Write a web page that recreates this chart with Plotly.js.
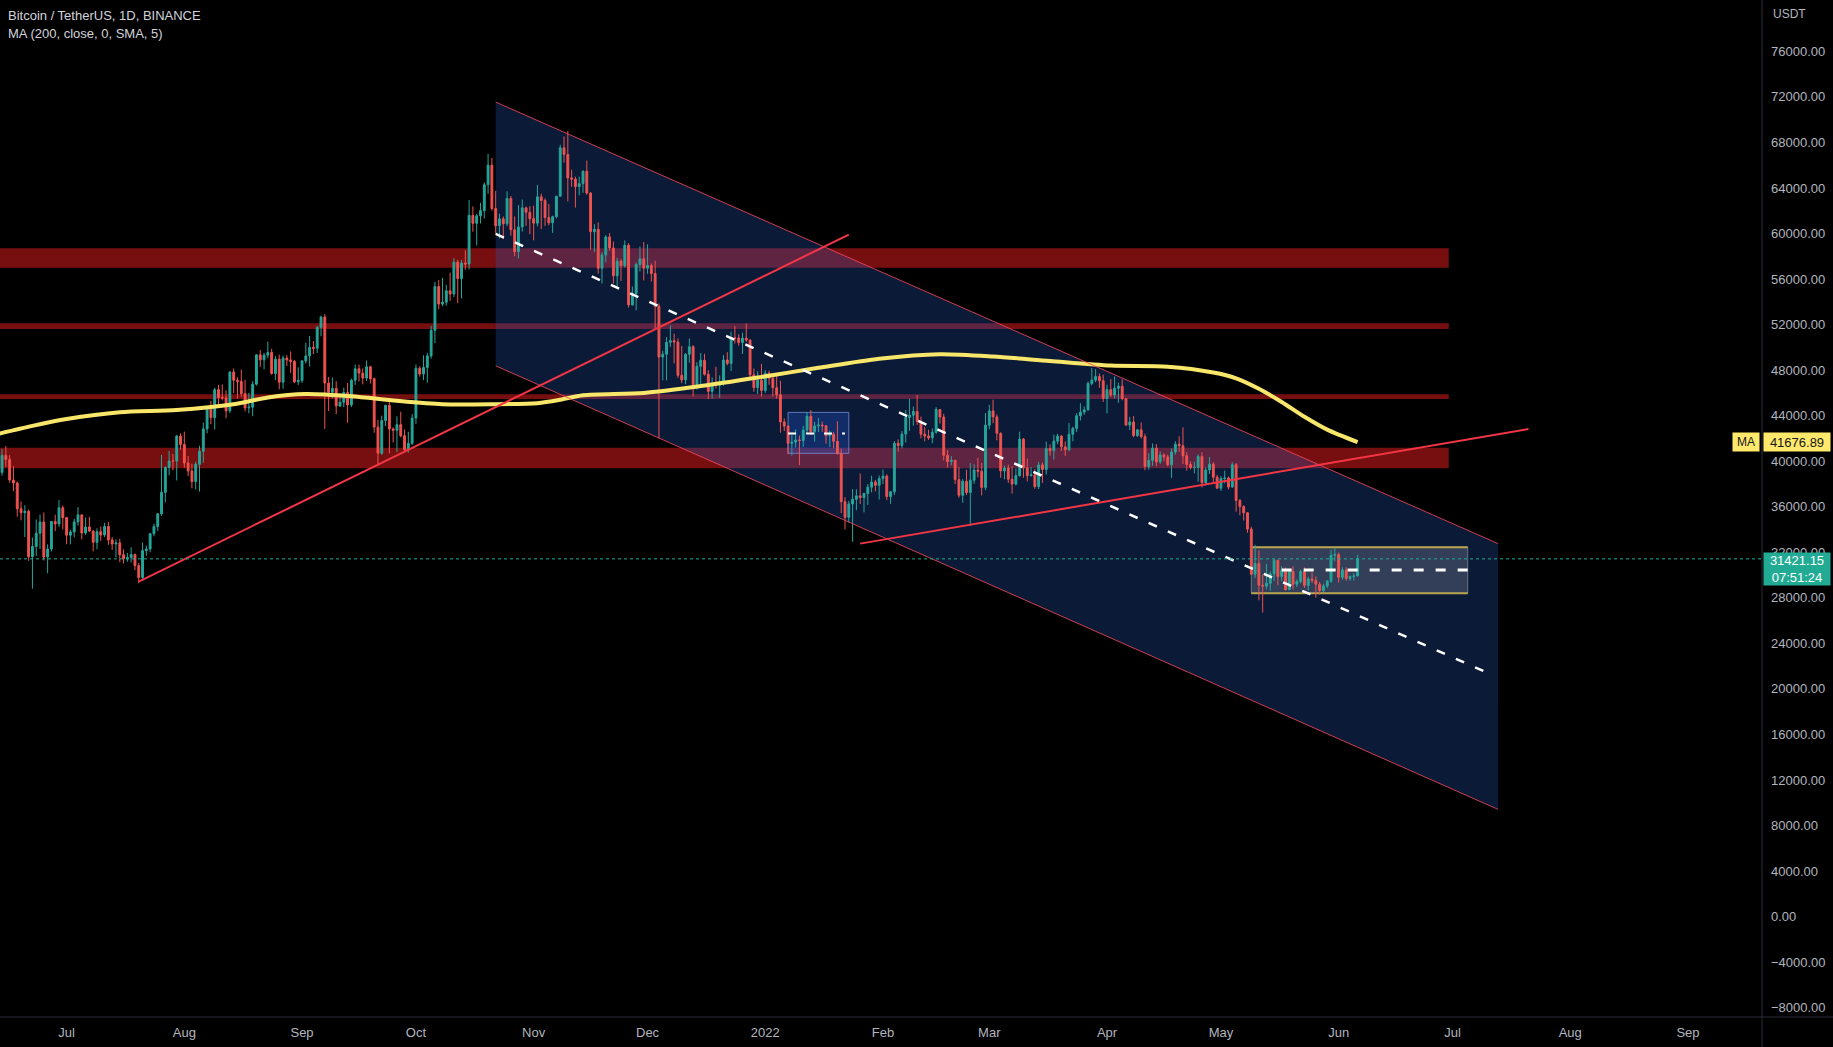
<!DOCTYPE html>
<html><head><meta charset="utf-8">
<script src="https://cdn.plot.ly/plotly-3.0.1.min.js"></script>
<style>html,body{margin:0;padding:0;background:#000;overflow:hidden}#chart{width:1833px;height:1047px}</style>
</head><body><div id="chart"></div>
<script>
// ---------------- DATA (BTC/USDT daily) ----------------
const startDate = [2021, 5, 13];          // 2021-06-13 (UTC, month 0-based)
const firstOpen = 35796;                   // open of the first candle; later opens = prior close (24/7 market)

const closes = [
 // Jun 2021 (13-30)
 39021,40516,40144,38349,38092,35820,35483,35600,31608,32509,33678,34663,31584,32283,34700,34494,35911,35045,
 // Jul
 33504,33786,34669,35287,33690,34220,33863,32877,33811,33515,34259,33087,32730,32820,31781,31421,31533,31797,30826,29790,32144,32288,33634,34258,35381,37269,39457,40019,40016,42206,41461,
 // Aug
 39845,39147,38207,39723,40867,42836,44614,43829,46285,45595,45553,44428,47833,47109,47015,45937,44686,44741,46763,49339,48905,49321,49546,47706,48960,46942,49058,48897,48767,46970,47100,
 // Sep
 48810,49246,49999,49915,51756,52663,46864,46048,46395,44850,45173,46026,44941,47111,48121,47737,47299,48292,47241,42996,40693,43574,44895,42839,42717,43208,42235,41035,41564,43790,
 // Oct
 48165,47657,48233,49245,51493,55339,53797,53963,54963,54691,57484,56041,57401,57321,61593,60892,61553,62010,64280,66001,62193,60688,61286,60852,63078,60328,58413,60575,62253,61859,61300,
 // Nov
 60911,63219,62897,61395,60937,61470,63273,67525,66947,64882,64774,64122,64380,65466,63557,60161,60368,56942,58119,59697,58730,56289,57570,57177,58960,53726,54721,57274,57776,56950,
 // Dec
 57184,56480,53601,49152,49396,50441,50588,50471,47545,47140,49389,50053,46702,48343,48864,47632,46131,46834,46681,46914,48889,48588,50838,50821,50429,50809,50640,47588,46464,47120,46216,
 // Jan 2022
 47722,47286,46446,45832,43451,43082,41566,41679,41864,41822,42735,43949,42591,43099,43177,43114,42250,42375,41744,40680,36445,35071,36244,36660,36958,36809,37160,37716,38166,37881,38466,
 // Feb
 38690,36896,37311,41574,41382,42380,43840,44043,44372,43495,42373,42217,42053,42535,44544,43873,40515,39974,40079,38386,37008,38230,37250,38328,39219,39116,37700,43160,
 // Mar
 44421,43892,42454,39148,39397,38420,37988,38730,41941,39422,38730,38807,37777,39671,39280,41114,40917,41757,42201,41262,41002,42364,42882,43991,44313,44511,46827,47122,47434,47067,45510,
 // Apr
 46283,45811,46407,46580,45497,43170,43444,42252,42753,42158,39530,40074,41147,39942,40552,40378,39678,40801,41493,41358,40480,39709,39441,39450,40426,38112,39235,39742,38596,37630,
 // May
 38468,38525,37729,39690,36552,36013,35472,34038,30076,31017,29103,29029,29283,30101,31305,29862,30425,28716,30314,29200,29432,30323,29098,29655,29542,29201,28629,29031,29468,31734,31801,
 // Jun 2022 (1-6)
 29805,30452,29700,29865,29920,31421.15
];
const highs = [
 39380,41064,41330,40527,39559,38202,36457,36137,35750,33298,34881,35298,35500,32700,34749,35297,36600,36100,
 35100,33977,34945,35967,35293,35059,35100,33929,34100,34262,34590,34666,33340,33114,33185,32249,31936,32435,31885,31063,32858,32591,33650,34500,35398,40550,39542,40900,40640,42316,42448,
 42599,40459,39785,39969,41350,43392,44700,45310,46454,46700,46743,46218,47886,48144,47372,48053,47160,46000,47033,49382,49757,49500,50500,49875,49229,49355,49278,49310,49643,48888,48246,
 48888,50400,51000,50558,51900,52780,52920,47399,47340,47033,45969,46460,46876,47250,48500,48488,48150,48843,48372,47347,43639,44000,44978,45200,42965,43937,44350,42787,42590,44132,
 48495,48336,49300,49530,51886,55750,55900,56100,55489,56561,57839,57680,57687,58532,62933,62378,61720,62695,64486,67000,66639,63732,61747,61500,63710,63293,61496,62499,62980,62359,62405,
 62437,64270,63500,63086,62595,61560,63286,67789,68524,69000,65600,65000,65000,65550,66401,63620,60823,60977,58366,59859,60030,59290,57875,57728,59398,59150,55329,57445,58865,59249,
 59053,57375,57600,53859,49698,50891,51936,51200,50797,50125,49485,50775,50189,48700,49500,49436,47995,47360,48300,47537,49328,49576,51375,51868,51156,51280,52088,50704,48139,47900,48548,
 47990,47944,47570,47505,47070,43748,43145,42300,42786,42248,43100,44322,44500,43448,43800,43475,43180,42691,42578,43505,41100,36835,36499,37550,37545,38919,37234,38000,38720,38359,38744,
 39265,38855,37387,41772,41913,42656,44500,45492,44799,45821,43920,43000,42760,42876,44751,44549,44164,40959,40444,40125,39494,38429,39249,39843,39726,40300,39855,44225,
 44949,45400,44102,42527,39613,39693,39547,39362,42594,42039,40236,39486,39310,39947,39887,41718,41478,42325,42400,42296,41744,43361,43025,44220,45094,44812,46999,48189,48096,47700,47600,
 46720,47213,47444,46890,47200,45507,43900,43970,42800,43410,42414,40699,41561,41500,40870,40709,40595,41116,41760,42199,42976,40795,39980,39940,40616,40797,39474,40372,39925,38795,
 38675,39167,38651,39902,39845,36675,36130,35502,34243,32659,32162,30032,30976,30303,31460,31319,30790,30666,30545,30777,29625,30487,30670,29835,30223,29872,29400,29250,29558,32222,32400,
 31982,30690,30679,29955,30150,31765
];
const lows = [
 34757,38730,39506,38116,37365,35129,34803,33336,31251,28805,31683,32286,31275,30151,32071,33862,34225,34017,
 32711,32699,33316,34357,33125,33532,33780,32077,32261,33005,33333,32658,32202,31550,31133,31020,31164,31108,30429,29278,29482,31708,32000,33401,33881,35205,36383,38772,39200,38313,41000,
 39422,38690,37627,37508,37332,39853,42446,43261,42779,44800,45341,43770,44217,45971,45500,45660,44376,44203,43955,46646,48285,48070,49028,47600,47126,46315,46371,48370,47762,46853,46700,
 46881,48584,48316,49400,49500,50969,42843,44412,45513,44132,44770,44742,43370,44750,46700,47008,46750,47044,46829,42500,39600,40565,43069,40675,41646,40803,42098,40888,40753,41410,
 43283,47430,47120,46891,49000,50382,53357,53617,53661,54080,54415,53879,54300,56818,56850,60150,58963,60880,61322,63481,62000,60000,59562,59510,60650,59817,58000,57820,60174,60674,59945,
 59405,60624,60382,60677,60721,60050,61322,63273,66222,62822,64100,62278,63360,63576,63400,58574,58373,56474,55600,57469,58486,55610,55317,55837,57000,53500,53668,53256,56666,55875,
 56458,55777,51680,42000,47100,47100,50039,48600,47320,46852,46751,48650,45672,46290,46547,47511,45456,45500,46406,45558,46630,48421,47920,50344,50142,49412,50459,47313,46096,45900,45678,
 46001,46718,45696,45502,42500,42645,40610,40501,41200,39650,41269,42450,42311,41725,42565,42581,41540,41250,41138,40553,35440,34008,34601,32917,35701,36234,35507,36155,37268,37351,36632,
 38000,36586,36250,37026,40843,41116,41645,42666,43117,43188,42007,41748,41870,41570,42427,43307,40073,39450,39639,38000,36800,36350,37036,34322,38014,38580,37000,37450,
 42809,43335,41832,38550,38407,38088,37155,37867,38656,38539,38223,38660,37578,37555,38098,38828,40500,40135,41499,40911,40467,40875,41751,42560,43579,44072,44421,46663,46950,46445,45200,
 44200,45620,45530,45118,45353,43121,42727,42107,42125,42000,39200,39254,39588,39551,39766,39991,39546,38536,40571,40820,39751,39177,39285,38929,38200,37702,37881,38881,38175,37578,
 37386,38052,37517,37670,35571,35258,34785,33713,30033,29730,27785,26700,28751,28630,29480,29100,29460,28654,28691,28730,28947,29255,28866,28651,29297,28019,28280,28500,28850,29300,31200,
 29350,29594,29500,29485,29516,29880
];

// MA (200, close, 0, SMA, 5)
const maDates  = ['2021-06-13','2021-06-22','2021-07-01','2021-07-15','2021-07-30','2021-08-14','2021-08-23','2021-09-02','2021-09-14','2021-09-26','2021-10-08','2021-10-21','2021-11-02','2021-11-08','2021-11-14','2021-11-30','2021-12-15','2021-12-31','2022-01-15','2022-01-31','2022-02-16','2022-03-02','2022-03-17','2022-04-02','2022-04-17','2022-04-29','2022-05-05','2022-05-11','2022-05-17','2022-05-23','2022-05-29','2022-06-06'];
const maValues = [42400,43100,43700,44300,44500,45000,45600,45900,45700,45300,45000,45000,45100,45400,45800,46000,46600,47400,48200,49000,49400,49200,48800,48400,48300,47790,47280,46360,45200,43900,42770,41677];
const maLast = 41676.89;
const lastPrice = 31421.15;
const countdown = '07:51:24';

// axis labels
const yTickVals = [-8000,-4000,0,4000,8000,12000,16000,20000,24000,28000,32000,36000,40000,44000,48000,52000,56000,60000,64000,68000,72000,76000];
const yTickText = ['\u22128000.00','\u22124000.00','0.00','4000.00','8000.00','12000.00','16000.00','20000.00','24000.00','28000.00','32000.00','36000.00','40000.00','44000.00','48000.00','52000.00','56000.00','60000.00','64000.00','68000.00','72000.00','76000.00'];
const xTickVals = ['2021-07-01','2021-08-01','2021-09-01','2021-10-01','2021-11-01','2021-12-01','2022-01-01','2022-02-01','2022-03-01','2022-04-01','2022-05-01','2022-06-01','2022-07-01','2022-08-01','2022-09-01'];
const xTickText = ['Jul','Aug','Sep','Oct','Nov','Dec','2022','Feb','Mar','Apr','May','Jun','Jul','Aug','Sep'];

// drawing anchors (user drawings on the chart)
const zoneTops    = [58700, 52110, 45880, 41190];
const zoneBottoms = [57000, 51610, 45460, 39380];
const zoneEnd = '2022-06-30';
const channelX  = ['2021-10-22', '2022-07-13'];
const channelTop = [71540, 32760];
const channelBottom = [48380, 9420];
const channelMid = [59960, 21150];
const trendA = {x: ['2021-07-20', '2022-01-23'], y: [29430, 59900]};
const trendB = {x: ['2022-01-26', '2022-07-21'], y: [32760, 42830]};
const rangeBox = {x: ['2022-05-09', '2022-07-05'], y: [28400, 32440], midX: '2022-05-17', mid: 30440};
const smallBox = {x: ['2022-01-07', '2022-01-23'], y: [40690, 44290], midX1: '2022-01-22', mid: 42440};

// ---------------- BUILD ----------------
const dates = closes.map((_, i) => new Date(Date.UTC(startDate[0], startDate[1], startDate[2] + i)).toISOString().slice(0, 10));
const opens = [firstOpen].concat(closes.slice(0, -1));

const candles = {
  type: 'candlestick', x: dates, open: opens, high: highs, low: lows, close: closes,
  increasing: {line: {color: '#26a69a', width: 1}, fillcolor: '#26a69a'},
  decreasing: {line: {color: '#ef5350', width: 1}, fillcolor: '#ef5350'},
  whiskerwidth: 0, hoverinfo: 'skip', showlegend: false
};
const ma = {
  type: 'scatter', mode: 'lines', x: maDates, y: maValues,
  line: {color: '#f9e76b', width: 4, shape: 'spline', smoothing: 0.8}, hoverinfo: 'skip', showlegend: false
};

const RED = '#f23645';
const shapes = [];
zoneTops.forEach((t, i) => shapes.push({type: 'rect', xref: 'x', yref: 'y', x0: '2021-05-01', x1: zoneEnd, y0: zoneBottoms[i], y1: t,
  fillcolor: 'rgba(145,18,20,0.82)', line: {width: 0}, layer: 'below'}));
shapes.push({type: 'path', xref: 'x', yref: 'y', layer: 'below',
  path: `M${channelX[0]},${channelTop[0]} L${channelX[1]},${channelTop[1]} L${channelX[1]},${channelBottom[1]} L${channelX[0]},${channelBottom[0]} Z`,
  fillcolor: 'rgba(37,87,180,0.3)', line: {width: 0}});
shapes.push({type: 'rect', xref: 'x', yref: 'y', layer: 'below', x0: rangeBox.x[0], x1: rangeBox.x[1], y0: rangeBox.y[0], y1: rangeBox.y[1],
  fillcolor: 'rgba(125,135,155,0.35)', line: {color: 'rgba(140,145,155,0.7)', width: 1}});
[rangeBox.y[0], rangeBox.y[1]].forEach(v => shapes.push({type: 'line', xref: 'x', yref: 'y', layer: 'below', x0: rangeBox.x[0], x1: rangeBox.x[1], y0: v, y1: v,
  line: {color: '#b9a54e', width: 2}}));
shapes.push({type: 'rect', xref: 'x', yref: 'y', layer: 'below', x0: smallBox.x[0], x1: smallBox.x[1], y0: smallBox.y[0], y1: smallBox.y[1],
  fillcolor: 'rgba(41,98,255,0.25)', line: {color: 'rgba(120,150,220,0.75)', width: 1}});
// lines above candles
shapes.push({type: 'line', xref: 'x', yref: 'y', x0: channelX[0], x1: channelX[1], y0: channelTop[0], y1: channelTop[1], line: {color: 'rgba(242,70,90,0.85)', width: 1}});
shapes.push({type: 'line', xref: 'x', yref: 'y', x0: channelX[0], x1: channelX[1], y0: channelBottom[0], y1: channelBottom[1], line: {color: 'rgba(242,70,90,0.85)', width: 1}});
shapes.push({type: 'line', xref: 'x', yref: 'y', x0: channelX[0], x1: '2022-07-12', y0: channelMid[0], y1: channelMid[1], line: {color: '#ffffff', width: 2.5, dash: '9px,12px'}});
shapes.push({type: 'line', xref: 'x', yref: 'y', x0: trendA.x[0], x1: trendA.x[1], y0: trendA.y[0], y1: trendA.y[1], line: {color: RED, width: 2}});
shapes.push({type: 'line', xref: 'x', yref: 'y', x0: trendB.x[0], x1: trendB.x[1], y0: trendB.y[0], y1: trendB.y[1], line: {color: RED, width: 2}});
shapes.push({type: 'line', xref: 'x', yref: 'y', x0: rangeBox.midX, x1: rangeBox.x[1], y0: rangeBox.mid, y1: rangeBox.mid, line: {color: '#ffffff', width: 3, dash: '10px,12px'}});
shapes.push({type: 'line', xref: 'x', yref: 'y', x0: smallBox.x[0], x1: smallBox.midX1, y0: smallBox.mid, y1: smallBox.mid, line: {color: '#ffffff', width: 2, dash: '8px,10px'}});
shapes.push({type: 'line', xref: 'paper', yref: 'y', x0: 0, x1: 1, y0: lastPrice, y1: lastPrice, line: {color: '#22ab94', width: 1, dash: 'dot'}});
// pane separators
shapes.push({type: 'line', xref: 'paper', yref: 'paper', x0: 1, x1: 1, y0: -0.04, y1: 1, line: {color: '#2a2e39', width: 1}});
shapes.push({type: 'line', xref: 'paper', yref: 'paper', x0: 0, x1: 1.05, y0: 0, y1: 0, line: {color: '#2a2e39', width: 1}});

const FONT = 'Liberation Sans, Arial, sans-serif';
const annotations = [
  {xref: 'paper', yref: 'paper', x: 0, xshift: 6, y: 1 - 16/1017, xanchor: 'left', yanchor: 'middle', showarrow: false,
   text: 'Bitcoin / TetherUS, 1D, BINANCE', font: {family: FONT, size: 13, color: '#d1d4dc'}},
  {xref: 'paper', yref: 'paper', x: 0, xshift: 6, y: 1 - 33/1017, xanchor: 'left', yanchor: 'middle', showarrow: false,
   text: 'MA (200, close, 0, SMA, 5)', font: {family: FONT, size: 13, color: '#d1d4dc'}},
  {xref: 'paper', yref: 'paper', x: 1, xshift: 9, y: 1 - 14/1017, xanchor: 'left', yanchor: 'middle', showarrow: false,
   text: 'USDT', font: {family: FONT, size: 12, color: '#b2b5be'}},
  {xref: 'paper', yref: 'y', x: 1, xshift: 1, y: maLast, xanchor: 'left', yanchor: 'middle', showarrow: false,
   text: maLast.toFixed(2), width: 64, height: 16, align: 'center', bgcolor: '#ffe96b', borderpad: 1,
   font: {family: FONT, size: 13, color: '#131722'}},
  {xref: 'paper', yref: 'y', x: 1, xshift: -2, y: maLast, xanchor: 'right', yanchor: 'middle', showarrow: false,
   text: 'MA', width: 24, height: 16, align: 'center', bgcolor: '#ffe96b', borderpad: 1,
   font: {family: FONT, size: 12, color: '#131722'}},
  {xref: 'paper', yref: 'y', x: 1, xshift: 1, y: lastPrice, yshift: 7, xanchor: 'left', yanchor: 'top', showarrow: false,
   text: lastPrice.toFixed(2) + '<br>' + countdown, width: 64, height: 30, align: 'center', bgcolor: '#22ab94', borderpad: 1,
   font: {family: FONT, size: 13, color: '#ffffff'}}
];

const layout = {
  width: 1833, height: 1047,
  margin: {l: 0, r: 71, t: 0, b: 30, pad: 0},
  paper_bgcolor: '#000000', plot_bgcolor: '#000000',
  showlegend: false, dragmode: false, hovermode: false,
  xaxis: {type: 'date', range: ['2021-06-13 11:00', '2022-09-20 12:00'], rangeslider: {visible: false},
    showgrid: false, zeroline: false, showline: false, tickmode: 'array', tickvals: xTickVals, ticktext: xTickText,
    ticks: '', ticklabelstandoff: 6, tickfont: {family: FONT, size: 13, color: '#b2b5be'}, automargin: false, fixedrange: true},
  yaxis: {side: 'right', range: [-8818, 80509], showgrid: false, zeroline: false, showline: false,
    tickmode: 'array', tickvals: yTickVals, ticktext: yTickText, ticks: '', ticklabelstandoff: 8,
    tickfont: {family: FONT, size: 13, color: '#b2b5be'}, automargin: false, fixedrange: true},
  shapes: shapes, annotations: annotations
};

Plotly.newPlot('chart', [candles, ma], layout, {displayModeBar: false, staticPlot: true});
</script></body></html>
